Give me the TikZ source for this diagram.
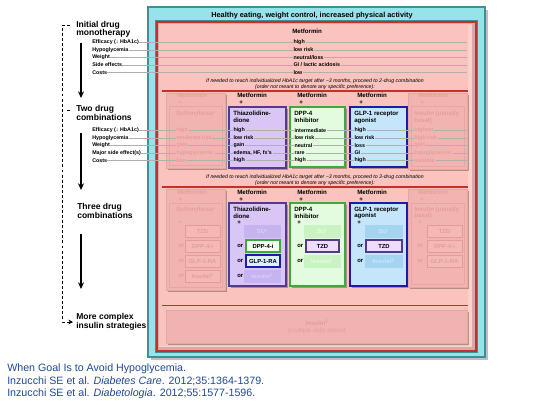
\documentclass[tikz,border=0pt]{standalone}
\usepackage{fontspec}
\setmainfont{Liberation Sans}
\usetikzlibrary{arrows.meta}
\definecolor{tealF}{HTML}{96E3EA}
\definecolor{tealD}{HTML}{3F9096}
\definecolor{pinkBG}{HTML}{FAC3BD}
\definecolor{pinkLt}{HTML}{FBD2CB}
\definecolor{panelSh}{HTML}{DCA8A5}
\definecolor{redL}{HTML}{C33129}
\definecolor{fadeF}{HTML}{F2B4B1}
\definecolor{fadeD}{HTML}{E8A6A3}
\definecolor{fadeT}{HTML}{E59E9B}
\definecolor{fsubF}{HTML}{F4B9B5}
\definecolor{fsubD}{HTML}{E39C98}
\definecolor{purF}{HTML}{D9C6F7}
\definecolor{purD}{HTML}{523A8C}
\definecolor{purSubF}{HTML}{C7B3F0}
\definecolor{purSubT}{HTML}{DDCCFB}
\definecolor{purSubA}{HTML}{EDDCFF}
\definecolor{grnF}{HTML}{E3FBDE}
\definecolor{grnD}{HTML}{3DAA3D}
\definecolor{grnSubF}{HTML}{C9F3C2}
\definecolor{grnSubT}{HTML}{E8FCE4}
\definecolor{grnSubA}{HTML}{F4FFF2}
\definecolor{bluF}{HTML}{C4E5FA}
\definecolor{bluD}{HTML}{1C1CA6}
\definecolor{bluSubF}{HTML}{A5D4F1}
\definecolor{bluSubT}{HTML}{C9E7FA}
\definecolor{bluSubA}{HTML}{DDF1FF}
\definecolor{s4F}{HTML}{F0B3B1}
\definecolor{s4D}{HTML}{E6A7A4}
\definecolor{s4T}{HTML}{DE9F9D}
\definecolor{dotgray}{HTML}{B0B0B0}
\definecolor{fnblue}{HTML}{1F4A94}
\newcommand\szS{\fontsize{4}{4.6}\selectfont}
\newcommand\szH{\fontsize{4.6}{5.2}\selectfont}
\newcommand\szT{\fontsize{5.5}{6.2}\selectfont}
\newcommand\szI{\fontsize{3.9}{4.5}\selectfont}
\newcommand\szL{\fontsize{6.4}{7.2}\selectfont}
\newcommand\szF{\fontsize{8}{9.4}\selectfont}
\newcommand\szB{\fontsize{4.4}{5}\selectfont}
\newcommand\mybox[7]{%
  \fill[black,opacity=0.28] (#1+1.5,#2+1.5) rectangle (#3+1.5,#4+1.5);
  \filldraw[fill=#5,draw=#6,line width=#7] (#1,#2) rectangle (#3,#4);}
\newcommand\subb[9]{%
  \fill[black,opacity=0.2] (#2+1,#4-5) rectangle (#3+1,#4+7);
  \filldraw[fill=#5,draw=#6,line width=#7] (#2,#4-6) rectangle (#3,#4+6);
  \node[font=\szB\bfseries,text=#8,inner sep=0pt] (#1) at ({(#2+#3)/2},#4) {#9};}
\tikzset{
  lab/.style={anchor=west,font=\szS\bfseries,inner sep=0pt},
  val/.style={anchor=west,font=\szS\bfseries,inner xsep=0.7pt,inner ysep=0.4pt},
  hdr/.style={anchor=west,font=\szH\bfseries,inner sep=0pt},
  ital/.style={font=\szI\itshape,inner sep=0pt},
  lt/.style={anchor=west,font=\szL\bfseries,inner sep=0pt},
  fn/.style={anchor=west,font=\szF,text=fnblue,inner sep=0pt},
  orl/.style={anchor=west,font=\szB\bfseries,inner sep=0pt},
  dotl/.style={draw=dotgray,line width=0.3pt},
  sarr/.style={draw=black,line width=1pt,-{Stealth[length=5pt,width=4.5pt]}},
  darr/.style={draw=black,line width=0.75pt,dash pattern=on 2.2pt off 1.6pt,-{Stealth[length=3.5pt,width=3.5pt]}},
  redline/.style={draw=redL,line width=1.1pt},
}
\begin{document}
\begin{tikzpicture}[x=0.75pt,y=-0.75pt]
\useasboundingbox (0,0) rectangle (540,405);
\fill[white] (0,0) rectangle (540,405);

% ---------- frames
\fill[black,opacity=0.25] (150.5,9.5) rectangle (487.5,359.5);
\filldraw[fill=tealF,draw=tealD,line width=1.1pt] (148,7) rectangle (485,357);
\draw[tealD,line width=0.6pt] (155.5,20.5) rectangle (477.5,352.5);
\filldraw[fill=panelSh,draw=redL,line width=1.1pt] (157,22) rectangle (476,351);
\fill[pinkLt] (159,24) rectangle (472,347);
\fill[pinkBG] (159,24) rectangle (468,345.5);

\node[font=\szT\bfseries,inner sep=0pt] (title) at (312,15.5) {Healthy eating, weight control, increased physical activity};

% ---------- left column
\node[lt] (t1a) at (76,25) {Initial drug};
\node[lt] (t1b) at (76,33.5) {monotherapy};
\node[lt] (t2a) at (76,109.5) {Two drug};
\node[lt] (t2b) at (76,117) {combinations};
\node[lt] (t3a) at (77,207) {Three drug};
\node[lt] (t3b) at (77,215) {combinations};
\node[lt] (t4a) at (76,317) {More complex};
\node[lt] (t4b) at (76,326.5) {insulin strategies};

\coordinate (a1s) at (81,43);  \coordinate (a1e) at (81,98);
\coordinate (a2s) at (81,133); \coordinate (a2e) at (81,190);
\coordinate (a3s) at (81,234); \coordinate (a3e) at (81,289);
\draw[sarr] (a1s) -- (a1e);
\draw[sarr] (a2s) -- (a2e);
\draw[sarr] (a3s) -- (a3e);

\coordinate (d0) at (70,25); \coordinate (d1) at (62.5,25);
\coordinate (d2) at (62.5,322); \coordinate (d3) at (73,322);
\draw[darr] (d0) -- (d1) -- (d2) -- (d3);
\coordinate (e0) at (66.5,110); \coordinate (e1) at (70,110);
\draw[black,line width=0.75pt] (e0) -- (e1);

% ---------- section 1
\node[hdr] (m1) at (292,31.5) {Metformin};
\node[lab] (l1a) at (92,42.3) {Efficacy (↓ HbA1c)};
\node[lab] (l1b) at (92,49.8) {Hypoglycemia};
\node[lab] (l1c) at (92,57.3) {Weight};
\node[lab] (l1d) at (92,64.9) {Side effects};
\node[lab] (l1e) at (92,72.3) {Costs};
\coordinate (r1a) at (467,42.3);
\coordinate (r1b) at (467,49.8);
\coordinate (r1c) at (467,57.3);
\coordinate (r1d) at (467,64.9);
\coordinate (r1e) at (467,72.3);
\draw[dotl] (l1a.east) -- (r1a);
\draw[dotl] (l1b.east) -- (r1b);
\draw[dotl] (l1c.east) -- (r1c);
\draw[dotl] (l1d.east) -- (r1d);
\draw[dotl] (l1e.east) -- (r1e);
\node[val,fill=pinkBG] (v1a) at (292.3,42.3) {high};
\node[val,fill=pinkBG] (v1b) at (292.3,49.8) {low risk};
\node[val,fill=pinkBG] (v1c) at (292.3,57.3) {neutral/loss};
\node[val,fill=pinkBG] (v1d) at (292.3,64.9) {GI / lactic acidosis};
\node[val,fill=pinkBG] (v1e) at (292.3,72.3) {low};

\node[ital] (n1a) at (315,81.5) {If needed to reach individualized HbA1c target after \textasciitilde3 months, proceed to 2-drug combination};
\node[ital] (n1b) at (315,87.5) {(order not meant to denote any specific preference):};
\draw[redline] (162,91) -- (468,91);

% ---------- section 2 boxes
\mybox{166}{93}{225}{168}{fadeF}{fadeD}{0.5pt}
\draw[fadeD,line width=0.5pt] (169.5,106.5) rectangle (222,165);
\mybox{229}{107}{286}{168}{purF}{purD}{1.1pt}
\mybox{290}{107}{345}{167}{grnF}{grnD}{1.1pt}
\mybox{350}{107}{407}{167}{bluF}{bluD}{1.1pt}
\mybox{408}{93}{467}{169}{fadeF}{fadeD}{0.5pt}
\draw[fadeD,line width=0.5pt] (411,106.5) rectangle (464,166);

\node[hdr,text=fadeT] (h2a) at (177,95.5) {Metformin};
\node[hdr,text=fadeT] (p2a) at (178,103) {+};
\node[hdr] (h2b) at (237,95.5) {Metformin};
\node[hdr] (p2b) at (239,102.5) {+};
\node[hdr] (h2c) at (297,95.5) {Metformin};
\node[hdr] (p2c) at (299,102.5) {+};
\node[hdr] (h2d) at (357,95.5) {Metformin};
\node[hdr] (p2d) at (359,102.5) {+};
\node[hdr,text=fadeT] (h2e) at (418,95.5) {Metformin};
\node[hdr,text=fadeT] (p2e) at (420,103) {+};

\node[hdr,text=fadeT] (s2a) at (176,113.5) {Sulfonylurea¹};
\node[hdr] (s2b1) at (233,113.5) {Thiazolidine-};
\node[hdr] (s2b2) at (233,120.5) {dione};
\node[hdr] (s2c1) at (294,113.5) {DPP-4};
\node[hdr] (s2c2) at (294,120.5) {Inhibitor};
\node[hdr] (s2d1) at (354,113.5) {GLP-1 receptor};
\node[hdr] (s2d2) at (354,120.5) {agonist};
\node[hdr,text=fadeT] (s2e1) at (414,113.5) {Insulin (usually};
\node[hdr,text=fadeT] (s2e2) at (414,120.5) {basal)};

\node[lab] (l2a) at (92,130.5) {Efficacy (↓ HbA1c)};
\node[lab] (l2b) at (92,138) {Hypoglycemia};
\node[lab] (l2c) at (92,145.5) {Weight};
\node[lab] (l2d) at (92,153) {Major side effect(s)};
\node[lab] (l2e) at (92,160.5) {Costs};
\coordinate (r2a) at (467,130.5);
\coordinate (r2b) at (467,138);
\coordinate (r2c) at (467,145.5);
\coordinate (r2d) at (467,153);
\coordinate (r2e) at (467,160.5);
\draw[dotl] (l2a.east) -- (r2a);
\draw[dotl] (l2b.east) -- (r2b);
\draw[dotl] (l2c.east) -- (r2c);
\draw[dotl] (l2d.east) -- (r2d);
\draw[dotl] (l2e.east) -- (r2e);

\node[val,fill=fadeF,text=fadeT] (v2a1) at (175.3,130.5) {high};
\node[val,fill=fadeF,text=fadeT] (v2a2) at (175.3,138) {moderate risk};
\node[val,fill=fadeF,text=fadeT] (v2a3) at (175.3,145.5) {gain};
\node[val,fill=fadeF,text=fadeT] (v2a4) at (175.3,153) {hypoglycemia¹};
\node[val,fill=fadeF,text=fadeT] (v2a5) at (175.3,160.5) {low};

\node[val,fill=purF] (v2b1) at (232.3,130.5) {high};
\node[val,fill=purF] (v2b2) at (232.3,138) {low risk};
\node[val,fill=purF] (v2b3) at (232.3,145.5) {gain};
\node[val,fill=purF] (v2b4) at (232.3,153) {edema, HF, fx's};
\node[val,fill=purF] (v2b5) at (232.3,160.5) {high};

\node[val,fill=grnF] (v2c1) at (293.3,130.5) {intermediate};
\node[val,fill=grnF] (v2c2) at (293.3,138) {low risk};
\node[val,fill=grnF] (v2c3) at (293.3,145.5) {neutral};
\node[val,fill=grnF] (v2c4) at (293.3,153) {rare};
\node[val,fill=grnF] (v2c5) at (293.3,160.5) {high};

\node[val,fill=bluF] (v2d1) at (353.3,130.5) {high};
\node[val,fill=bluF] (v2d2) at (353.3,138) {low risk};
\node[val,fill=bluF] (v2d3) at (353.3,145.5) {loss};
\node[val,fill=bluF] (v2d4) at (353.3,153) {GI};
\node[val,fill=bluF] (v2d5) at (353.3,160.5) {high};

\node[val,fill=fadeF,text=fadeT] (v2e1) at (413.3,130.5) {highest};
\node[val,fill=fadeF,text=fadeT] (v2e2) at (413.3,138) {high risk};
\node[val,fill=fadeF,text=fadeT] (v2e3) at (413.3,145.5) {gain};
\node[val,fill=fadeF,text=fadeT] (v2e4) at (413.3,153) {hypoglycemia¹};
\node[val,fill=fadeF,text=fadeT] (v2e5) at (413.3,160.5) {variable};

\node[ital] (n2a) at (315,177) {If needed to reach individualized HbA1c target after \textasciitilde3 months, proceed to 3-drug combination};
\node[ital] (n2b) at (315,183.3) {(order not meant to denote any specific preference):};
\draw[redline] (162,187) -- (468,187);

% ---------- section 3
\mybox{166}{189}{225}{290}{fadeF}{fadeD}{0.5pt}
\draw[fadeD,line width=0.5pt] (169.5,203) rectangle (222,287);
\mybox{229}{203}{286}{286}{purF}{purD}{1.1pt}
\mybox{290}{203}{345}{286}{grnF}{grnD}{1.1pt}
\mybox{350}{203}{407}{286}{bluF}{bluD}{1.1pt}
\mybox{408}{189}{467}{287}{fadeF}{fadeD}{0.5pt}
\draw[fadeD,line width=0.5pt] (411,203) rectangle (464,284);

\node[hdr,text=fadeT] (h3a) at (177,192.5) {Metformin};
\node[hdr,text=fadeT] (p3a) at (178,199.5) {+};
\node[hdr] (h3b) at (237,192.5) {Metformin};
\node[hdr] (p3b) at (239,199.5) {+};
\node[hdr] (h3c) at (297,192.5) {Metformin};
\node[hdr] (p3c) at (299,199.5) {+};
\node[hdr] (h3d) at (357,192.5) {Metformin};
\node[hdr] (p3d) at (359,199.5) {+};
\node[hdr,text=fadeT] (h3e) at (418,192.5) {Metformin};
\node[hdr,text=fadeT] (p3e) at (420,199.5) {+};

\node[hdr,text=fadeT] (s3a) at (176,209.5) {Sulfonylurea¹};
\node[hdr] (s3b1) at (233,209.5) {Thiazolidine-};
\node[hdr] (s3b2) at (233,216) {dione};
\node[hdr] (s3c1) at (294,209.5) {DPP-4};
\node[hdr] (s3c2) at (294,216) {Inhibitor};
\node[hdr] (s3d1) at (354,209.5) {GLP-1 receptor};
\node[hdr] (s3d2) at (354,216) {agonist};
\node[hdr,text=fadeT] (s3e1) at (414,209.5) {Insulin (usually};
\node[hdr,text=fadeT] (s3e2) at (414,216) {basal)};

\node[hdr,text=fadeT] (q3a) at (178,222.5) {+};
\node[hdr] (q3b) at (237,222.5) {+};
\node[hdr] (q3c) at (297,222.5) {+};
\node[hdr] (q3d) at (357,222.5) {+};
\node[hdr,text=fadeT] (q3e) at (418,222.5) {+};

% col 1 (faded)
\subb{c1a}{185}{220}{231}{fsubF}{fsubD}{0.6pt}{fadeT}{TZD}
\subb{c1b}{185}{220}{246}{fsubF}{fsubD}{0.6pt}{fadeT}{DPP-4-i}
\subb{c1c}{185}{220}{261}{fsubF}{fsubD}{0.6pt}{fadeT}{GLP-1-RA}
\subb{c1d}{185}{220}{276}{fsubF}{fsubD}{0.6pt}{fadeT}{Insulin\textsuperscript{§}}
\node[orl,text=fadeT] (o1b) at (178,246) {or};
\node[orl,text=fadeT] (o1c) at (178,261) {or};
\node[orl,text=fadeT] (o1d) at (178,276) {or};
% col 2
\subb{c2a}{244}{280}{231}{purSubF}{purSubF}{0.3pt}{purSubT}{SU¹}
\subb{c2b}{246}{280}{246}{grnSubA}{grnD}{1pt}{black}{DPP-4-i}
\subb{c2c}{246}{280}{261}{bluSubA}{bluD}{1pt}{black}{GLP-1-RA}
\subb{c2d}{244}{280}{276}{purSubF}{purSubF}{0.3pt}{purSubT}{Insulin\textsuperscript{§}}
\node[orl] (o2b) at (237,246) {or};
\node[orl] (o2c) at (237,261) {or};
\node[orl] (o2d) at (237,276) {or};
% col 3
\subb{c3a}{304}{340}{231}{grnSubF}{grnSubF}{0.3pt}{grnSubT}{SU¹}
\subb{c3b}{306}{339}{246}{purSubA}{purD}{1pt}{black}{TZD}
\subb{c3c}{304}{340}{261}{grnSubF}{grnSubF}{0.3pt}{grnSubT}{Insulin\textsuperscript{§}}
\node[orl] (o3b) at (297,246) {or};
\node[orl] (o3c) at (297,261) {or};
% col 4
\subb{c4a}{365}{402}{231}{bluSubF}{bluSubF}{0.3pt}{bluSubT}{SU¹}
\subb{c4b}{366}{402}{246}{purSubA}{purD}{1pt}{black}{TZD}
\subb{c4c}{365}{402}{261}{bluSubF}{bluSubF}{0.3pt}{bluSubT}{Insulin\textsuperscript{§}}
\node[orl] (o4b) at (357,246) {or};
\node[orl] (o4c) at (357,261) {or};
% col 5 (faded)
\subb{c5a}{427}{462}{231}{fsubF}{fsubD}{0.6pt}{fadeT}{TZD}
\subb{c5b}{427}{462}{246}{fsubF}{fsubD}{0.6pt}{fadeT}{DPP-4-i}
\subb{c5c}{427}{462}{261}{fsubF}{fsubD}{0.6pt}{fadeT}{GLP-1-RA}
\node[orl,text=fadeT] (o5b) at (417,246) {or};
\node[orl,text=fadeT] (o5c) at (417,261) {or};

\draw[redline] (162,305.5) -- (468,305.5);

% ---------- section 4
\mybox{166}{310}{467}{343}{s4F}{s4D}{0.5pt}
\node[font=\szH\bfseries,text=s4T,inner sep=0pt] (ins1) at (317,322.5) {Insulin\textsuperscript{§}};
\node[font=\szH,text=s4T,inner sep=0pt] (ins2) at (317,331) {(multiple daily doses)};

% ---------- footnote
\node[fn] (f1) at (7,369) {When Goal Is to Avoid Hypoglycemia.};
\node[fn] (f2) at (7,381.5) {Inzucchi SE et al. \textit{Diabetes Care}. 2012;35:1364-1379.};
\node[fn] (f3) at (7,394) {Inzucchi SE et al. \textit{Diabetologia}. 2012;55:1577-1596.};
\end{tikzpicture}
\end{document}
